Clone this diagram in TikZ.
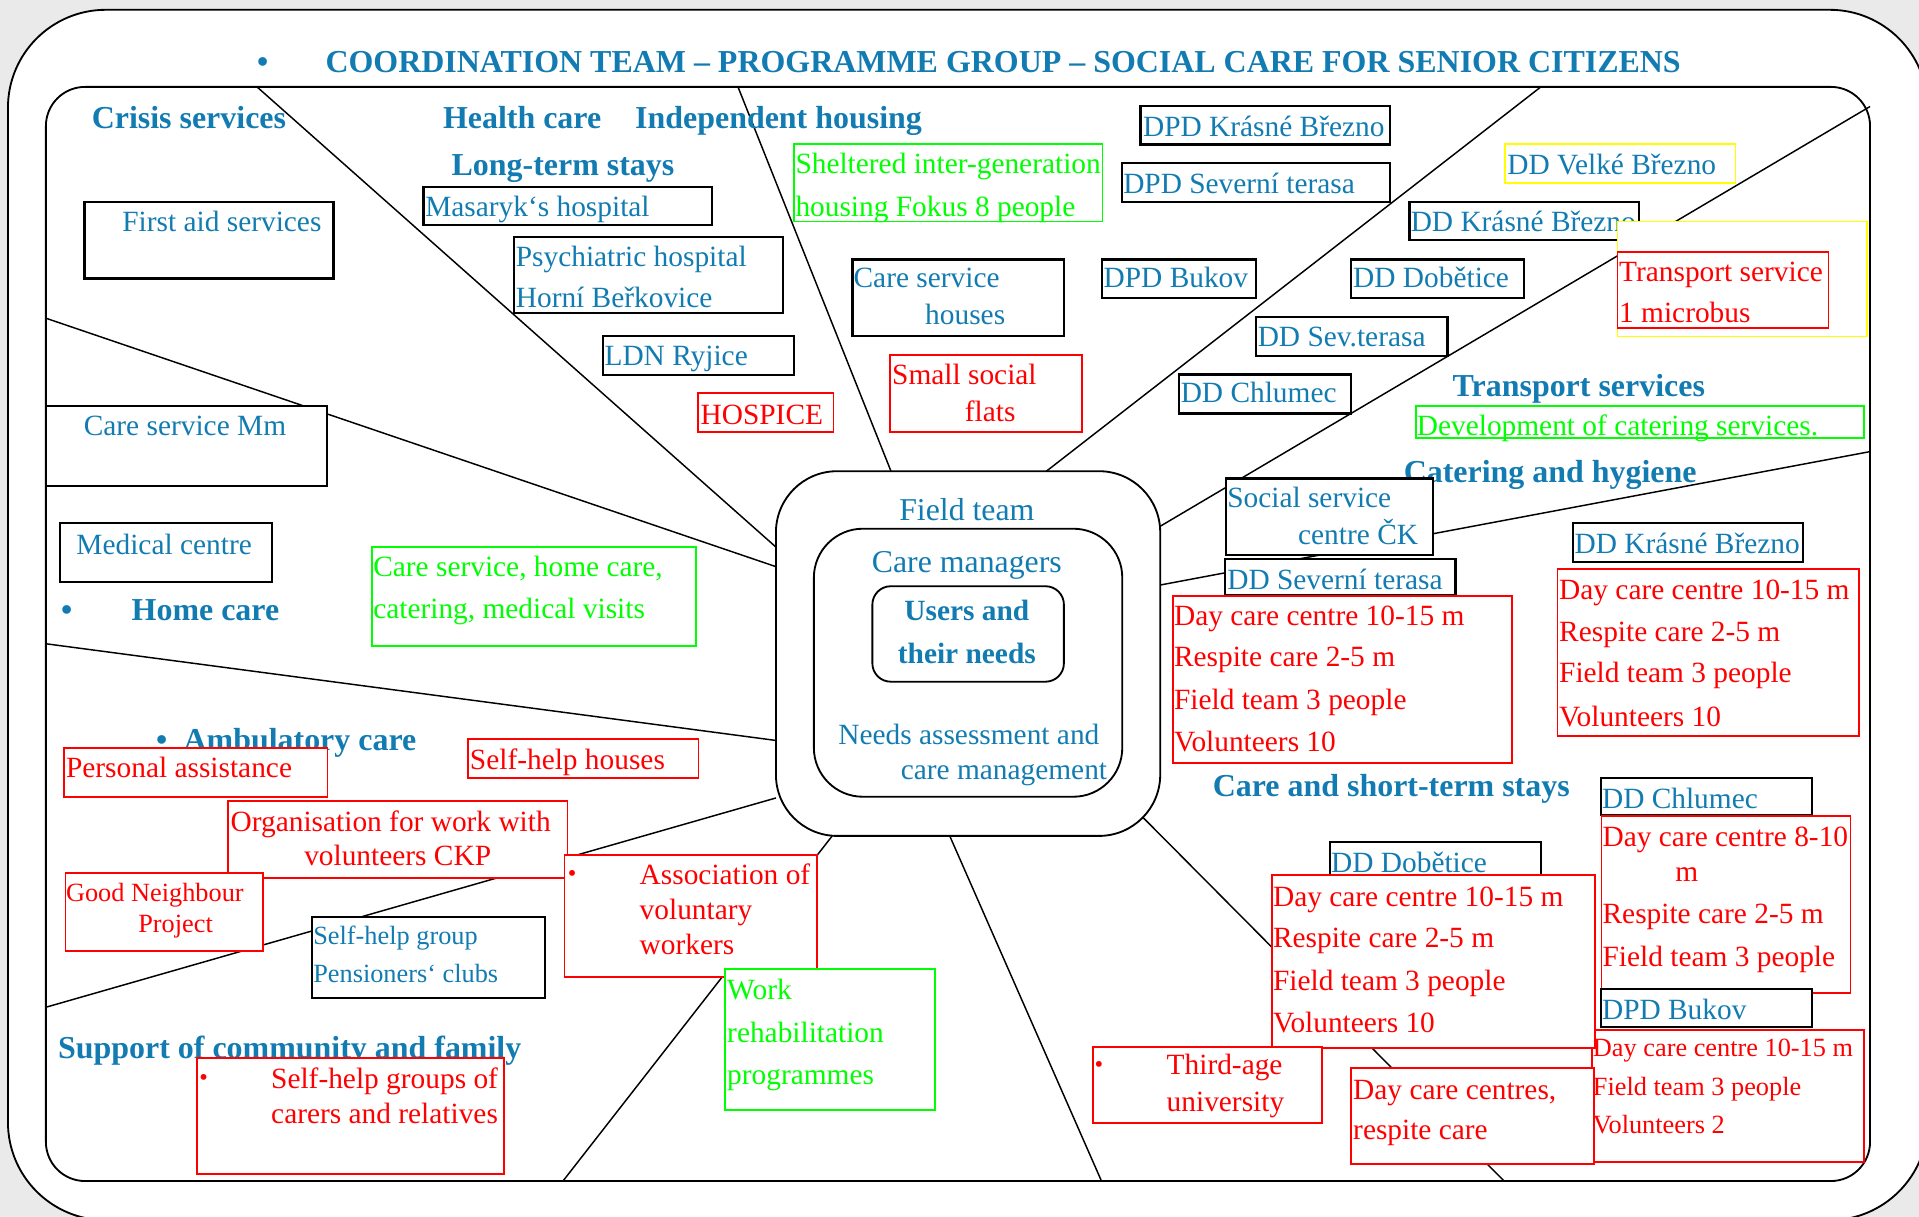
\documentclass[tikz,border=0pt]{standalone}
\usepackage{fontspec}
\setmainfont{Liberation Serif}

\definecolor{ink}{RGB}{18,124,178}
\definecolor{cred}{RGB}{255,0,0}
\definecolor{cgreen}{RGB}{0,255,0}
\definecolor{cyellow}{RGB}{255,255,0}
\definecolor{cgray}{RGB}{234,234,234}

% rectangle node given by its corners: name, style, x1, y1, x2, y2
\newcommand\panel[6]{\node[#2, anchor=north west,
  minimum width={(#5-(#3))*1pt}, minimum height={(#6-(#4))*1pt}] (#1) at (#3,#4) {};}

\tikzset{
  frame/.style={draw=black, line width=1.5pt},
  spoke/.style={draw=black, line width=1.2pt},
  cbox/.style={draw=black, line width=1.5pt, fill=white, inner sep=0pt, outer sep=0pt},
  kbox/.style={draw=black, line width=1.8pt, fill=white, inner sep=0pt, outer sep=0pt},
  rbox/.style={draw=cred, line width=1.5pt, fill=white, inner sep=0pt, outer sep=0pt},
  gbox/.style={draw=cgreen, line width=1.5pt, fill=white, inner sep=0pt, outer sep=0pt},
  ybox/.style={draw=cyellow, line width=1.5pt, fill=white, inner sep=0pt, outer sep=0pt},
  txt/.style={anchor=base west, inner sep=0pt, outer sep=0pt, yshift=-1pt, font=\fontsize{24}{28}\selectfont},
  sml/.style={anchor=base west, inner sep=0pt, outer sep=0pt, yshift=-1pt, font=\fontsize{21.5}{26}\selectfont},
  head/.style={anchor=base west, inner sep=0pt, outer sep=0pt, text=ink, font=\fontsize{26.1}{30}\selectfont\bfseries},
  mid/.style={anchor=base, inner sep=0pt, outer sep=0pt, text=ink, font=\fontsize{26}{30}\selectfont},
  midb/.style={anchor=base, inner sep=0pt, outer sep=0pt, text=ink, font=\fontsize{24}{28}\selectfont\bfseries},
  bl/.style={text=ink}, rd/.style={text=cred}, gr/.style={text=cgreen},
  dot/.style={anchor=base west, inner sep=0pt, outer sep=0pt, font=\fontsize{20}{24}\selectfont},
}

\begin{document}
\begin{tikzpicture}[x=1pt, y=-1pt]
\useasboundingbox (0,0) rectangle (1568,994);
\clip (0,0) rectangle (1568,994);
\fill[cgray] (0,0) rectangle (1568,994);

% outer and inner frames
\draw[frame, fill=white, rounded corners=80pt] (6.5,8) rectangle (1575,997);
\draw[frame, rounded corners=32pt] (37.5,71) rectangle (1528,965);

% title
\node[head] (tbul) at (210,59) {•};
\node[head] (title) at (266,59) {COORDINATION TEAM – PROGRAMME GROUP – SOCIAL CARE FOR SENIOR CITIZENS};

% spoke end points on the frame and on the field team box
\coordinate (fa) at (210,71);     \coordinate (ca) at (634,447);
\coordinate (fb) at (37.5,260);   \coordinate (cb) at (634,463);
\coordinate (fc) at (37.5,526);   \coordinate (cc) at (634,605);
\coordinate (fd) at (37.5,823);   \coordinate (cd) at (634,652);
\coordinate (fe) at (460,965);    \coordinate (ce) at (680,683);
\coordinate (ff) at (900,965);    \coordinate (cf) at (776,683);
\coordinate (fg) at (1229,965);   \coordinate (cg) at (933,667);
\coordinate (fh) at (1528,369);   \coordinate (ch) at (948,478);
\coordinate (fi) at (1528,87);    \coordinate (ci) at (948,430);
\coordinate (fj) at (1259,71);    \coordinate (cj) at (855,385);
\coordinate (fk) at (603,71);     \coordinate (ck) at (728,385);
\foreach \s in {a,b,c,d,e,f,g,h,i,j,k} \draw[spoke] (f\s) -- (c\s);

% headings
\node[head] (hCrisis) at (75,105) {Crisis services};
\node[head] (hHealth) at (362,105) {Health care};
\node[head] (hIndep) at (519,105) {Independent housing};
\node[head] (hLong) at (369,143) {Long-term stays};
\node[head] (hTrans) at (1187,324) {Transport services};
\node[head] (hCater) at (1147,394) {Catering and hygiene};
\node[head] (hHomeB) at (50,507) {•};
\node[head] (hHome) at (107.6,507) {Home care};
\node[head] (hAmbB) at (127.6,613) {•};
\node[head] (hAmb) at (150,613) {Ambulatory care};
\node[head] (hShort) at (991,651) {Care and short-term stays};
\node[head] (hSupport) at (47.5,865) {Support of community and family};

% centre
\panel{field}{cbox, rounded corners=50pt}{634}{385}{948}{683}
\panel{mgr}{cbox, rounded corners=40pt}{665}{432}{917}{651}
\panel{users}{cbox, rounded corners=15pt}{712.8}{479}{869.3}{557}
\node[mid] (tField) at (790,425) {Field team};
\node[mid] (tMgr) at (790,468) {Care managers};
\node[midb] (tUsers1) at (790,507) {Users and};
\node[midb] (tUsers2) at (790,542) {their needs};
\node[txt,bl] (tNeeds1) at (685,607) {Needs assessment and};
\node[txt,bl] (tNeeds2) at (736,636) {care management};

% crisis, home and ambulatory care
\panel{bFirst}{kbox}{69}{165}{272.5}{227.5}
\node[txt,bl] (tFirst) at (100,188) {First aid services};
\panel{bMm}{kbox}{37.5}{332}{267.5}{397}
\node[txt,bl] (tMm) at (68.5,355) {Care service Mm};
\panel{bMed}{kbox}{49}{427.6}{222}{475.3}
\node[txt,bl] (tMed) at (62.5,452) {Medical centre};
\panel{bHome}{gbox}{304}{446.7}{568.7}{527.6}
\node[txt,gr] (tHome1) at (305,470) {Care service, home care,};
\node[txt,gr] (tHome2) at (305,504) {catering, medical visits};
\panel{bPers}{rbox}{52.5}{611.5}{267.6}{651}
\node[txt,rd] (tPers) at (54,634.6) {Personal assistance};
\panel{bSelfH}{rbox}{382.6}{604.1}{570.7}{635.5}
\node[txt,rd] (tSelfH) at (384,628) {Self-help houses};

% community and family
\panel{bOrg}{rbox}{186.6}{654.2}{463.7}{717.2}
\node[txt,rd] (tOrg1) at (188.5,678) {Organisation for work with};
\node[txt,rd] (tOrg2) at (248.6,706.5) {volunteers CKP};
\panel{bGood}{rbox}{53.5}{713.6}{215}{776.8}
\node[sml,rd] (tGood1) at (54,735.4) {Good Neighbour};
\node[sml,rd] (tGood2) at (113,761.2) {Project};
\panel{bPens}{kbox}{255}{749}{445}{815.2}
\node[sml,bl] (tPens1) at (256,770.8) {Self-help group};
\node[sml,bl] (tPens2) at (256,802) {Pensioners‘ clubs};
\panel{bAssoc}{rbox}{461.2}{698.6}{667.8}{798.6}
\node[dot,rd] (tAssocB) at (464,720) {•};
\node[txt,rd] (tAssoc1) at (522.7,721.7) {Association of};
\node[txt,rd] (tAssoc2) at (522.7,750.3) {voluntary};
\node[txt,rd] (tAssoc3) at (522.7,779) {workers};
\panel{bWork}{gbox}{592.7}{792}{764.3}{907}
\node[txt,gr] (tWork1) at (594.2,815.7) {Work};
\node[txt,gr] (tWork2) at (594.2,851) {rehabilitation};
\node[txt,gr] (tWork3) at (594.2,885.2) {programmes};
\panel{bCarers}{rbox}{161}{864.7}{411.7}{959.3}
\node[dot,rd] (tCarB) at (163,887) {•};
\node[txt,rd] (tCar1) at (221.6,888.4) {Self-help groups of};
\node[txt,rd] (tCar2) at (221.6,917.3) {carers and relatives};

% health care and housing
\panel{bMas}{kbox}{346}{152.5}{581.5}{184}
\node[txt,bl] (tMas) at (347.5,175.7) {Masaryk‘s hospital};
\panel{bPsy}{kbox}{420}{193.4}{640}{256}
\node[txt,bl] (tPsy1) at (421.5,216.6) {Psychiatric hospital};
\node[txt,bl] (tPsy2) at (421.5,250.6) {Horní Beřkovice};
\panel{bLdn}{kbox}{492.5}{274.6}{649}{306.4}
\node[txt,bl] (tLdn) at (494,297.5) {LDN Ryjice};
\panel{bHosp}{rbox}{570.5}{321.4}{681}{353.3}
\node[txt,rd] (tHosp) at (572.5,346) {HOSPICE};
\panel{bShel}{gbox}{649}{117.7}{900.8}{181}
\node[txt,gr] (tShel1) at (650,141) {Sheltered inter-generation};
\node[txt,gr] (tShel2) at (650,175.7) {housing Fokus 8 people};
\panel{bCsh}{kbox}{696.5}{212}{869.4}{274.6}
\node[txt,bl] (tCsh1) at (697.5,234) {Care service};
\node[txt,bl] (tCsh2) at (756,264) {houses};
\panel{bSmall}{rbox}{727.5}{290}{884.3}{353.3}
\node[txt,rd] (tSmall1) at (729,313) {Small social};
\node[txt,rd] (tSmall2) at (788.4,343) {flats};

% homes and day care in the upper right
\panel{bDpdK}{kbox}{931.8}{86.6}{1135.7}{118}
\node[txt,bl] (tDpdK) at (934,110.3) {DPD Krásné Březno};
\panel{bDpdS}{kbox}{916.8}{133.5}{1135.7}{164.8}
\node[txt,bl] (tDpdS) at (917.8,157.4) {DPD Severní terasa};
\panel{bDpdB}{kbox}{900.3}{212}{1026.3}{243.3}
\node[txt,bl] (tDpdB) at (901.8,234.3) {DPD Bukov};
\panel{bDdVB}{ybox}{1230}{117.7}{1418}{149.3}
\node[txt,bl] (tDdVB) at (1231.6,141.6) {DD Velké Březno};
\panel{bDdKB}{kbox}{1151.7}{164.8}{1339}{196}
\node[txt,bl] (tDdKB) at (1152.7,188) {DD Krásné Březno};
\panel{bDdDo}{kbox}{1104.2}{212}{1245}{243.3}
\node[txt,bl] (tDdDo) at (1105.7,234.3) {DD Dobětice};
\panel{bDdSev}{kbox}{1026.3}{259.3}{1182.7}{290.6}
\node[txt,bl] (tDdSev) at (1027.7,282) {DD Sev.terasa};
\panel{bDdCh}{kbox}{963.3}{306}{1104.2}{337.8}
\node[txt,bl] (tDdCh) at (964.8,328) {DD Chlumec};
\panel{bTrY}{ybox}{1321.6}{181}{1525.5}{275}
\panel{bTrR}{rbox}{1321.6}{205.7}{1494}{268.3}
\node[txt,rd] (tTr1) at (1323,228.8) {Transport service};
\node[txt,rd] (tTr2) at (1323,262.9) {1 microbus};
\panel{bCat}{gbox}{1156.7}{331.8}{1523}{357.7}
\node[txt,gr] (tCat) at (1157.7,355) {Development of catering services.};

% care and short-term stays
\panel{bSoc}{kbox}{1001.8}{391}{1170.7}{453.5}
\node[txt,bl] (tSoc1) at (1002.8,414) {Social service};
\node[txt,bl] (tSoc2) at (1060.7,444) {centre ČK};
\panel{bDdSt}{kbox}{1000.8}{456.8}{1189.2}{486.5}
\node[txt,bl] (tDdSt) at (1002.8,480.7) {DD Severní terasa};
\panel{bR1}{rbox}{958.3}{486.7}{1235.1}{623.7}
\node[txt,rd] (tR1a) at (959.3,509.9) {Day care centre 10-15 m};
\node[txt,rd] (tR1b) at (959.3,543.9) {Respite care 2-5 m};
\node[txt,rd] (tR1c) at (959.3,578.8) {Field team 3 people};
\node[txt,rd] (tR1d) at (959.3,612.8) {Volunteers 10};
\panel{bDdKB2}{kbox}{1285}{427.6}{1473}{459.5}
\node[txt,bl] (tDdKB2) at (1286.6,451.6) {DD Krásné Březno};
\panel{bR2}{rbox}{1272.6}{465}{1519}{601.1}
\node[txt,rd] (tR2a) at (1274,488.9) {Day care centre 10-15 m};
\node[txt,rd] (tR2b) at (1274,523) {Respite care 2-5 m};
\node[txt,rd] (tR2c) at (1274,557) {Field team 3 people};
\node[txt,rd] (tR2d) at (1274,592.4) {Volunteers 10};
\panel{bDdCh2}{kbox}{1308}{635.5}{1480.5}{666}
\node[txt,bl] (tDdCh2) at (1309,659.2) {DD Chlumec};
\panel{bR3}{rbox}{1308.5}{666.5}{1512}{811.1}
\node[txt,rd] (tR3a) at (1309.5,690.5) {Day care centre 8-10};
\node[txt,rd] (tR3b) at (1369,719) {m};
\node[txt,rd] (tR3c) at (1309.5,753.9) {Respite care 2-5 m};
\node[txt,rd] (tR3d) at (1309.5,788.5) {Field team 3 people};
\panel{bDpdB2}{kbox}{1308}{808.4}{1480.5}{839.4}
\node[txt,bl] (tDpdB2) at (1309,832) {DPD Bukov};
\panel{bR5}{rbox}{1300.6}{841.6}{1523}{949.2}
\node[sml,rd] (tR5a) at (1301.6,862) {Day care centre 10-15 m};
\node[sml,rd] (tR5b) at (1301.6,894.2) {Field team 3 people};
\node[sml,rd] (tR5c) at (1301.6,925.5) {Volunteers 2};
\panel{bDdDo2}{kbox}{1086.7}{688.3}{1259}{716}
\node[txt,bl] (tDdDo2) at (1087.7,712.2) {DD Dobětice};
\panel{bR4}{rbox}{1039.2}{714.9}{1303.1}{856}
\node[txt,rd] (tR4a) at (1040.2,739.4) {Day care centre 10-15 m};
\node[txt,rd] (tR4b) at (1040.2,773.5) {Respite care 2-5 m};
\node[txt,rd] (tR4c) at (1040.2,808.4) {Field team 3 people};
\node[txt,rd] (tR4d) at (1040.2,843) {Volunteers 10};
\panel{bThird}{rbox}{892.8}{855.2}{1080.2}{917.9}
\node[dot,rd] (tThirdB) at (894.3,876) {•};
\node[txt,rd] (tThird1) at (953.3,877) {Third-age};
\node[txt,rd] (tThird2) at (953.3,907) {university};
\panel{bDcc}{rbox}{1104.2}{872.9}{1302.1}{951.1}
\node[txt,rd] (tDcc1) at (1105.7,897.4) {Day care centres,};
\node[txt,rd] (tDcc2) at (1105.7,930) {respite care};
\end{tikzpicture}
\end{document}
